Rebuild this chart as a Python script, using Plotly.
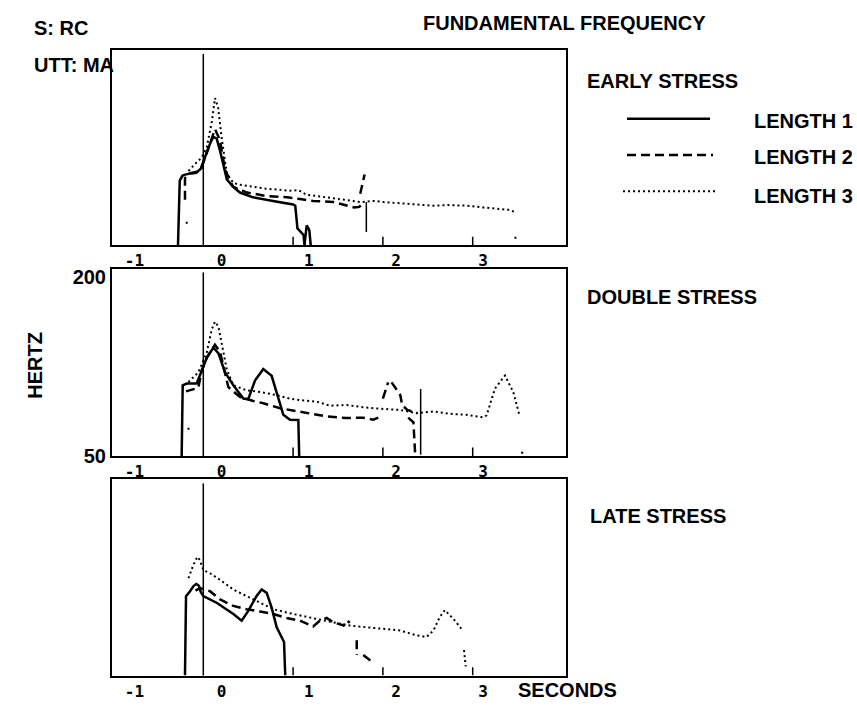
import plotly.graph_objects as go

# ---------------- data (seconds, Hz) ----------------
panel_titles = ["EARLY STRESS", "DOUBLE STRESS", "LATE STRESS"]
tick_values = [-1, 0, 1, 2, 3]
tick_labels = ["-1", "0", "1", "2", "3"]
y_tick_values = [50, 200]
y_tick_labels = ["50", "200"]
onset_time = -0.21
small_marks = [0.82, 1.85, 2.88]

# EARLY STRESS
early_len1_t = [-0.50, -0.48, -0.45, -0.42, -0.35, -0.29, -0.23, -0.17, -0.12, -0.095, -0.056, -0.02, 0.06,
                0.13, 0.21, 0.36, 0.59, 0.82, 0.845, 0.87, 0.94, 0.95, None, 0.95, 0.976, 1.006, 1.022]
early_len1_hz = [50, 104, 108, 109, 110, 110.5, 114.5, 128, 137, 140.5, 139, 129.5, 105,
                 99, 94, 90, 87, 84, 83, 64, 58.5, 50, None, 50, 66.5, 62.5, 50]
early_len2_t = [-0.42, -0.42, -0.37, -0.25, -0.17, -0.076, -0.02, 0.04, 0.13, 0.29, 0.52, 0.75, 0.90, 1.05,
                1.28, 1.43, 1.52, 1.58, 1.63, None, 1.59, 1.64]
early_len2_hz = [88, 106, 110, 112, 127, 147, 138, 113, 99, 94, 91, 90, 88.5, 87,
                 86, 83, 81.5, 82, 86, None, 93, 109]
early_len2_tail_t = [1.66, 1.66]
early_len2_tail_hz = [86, 61]
early_len3_t = [-0.40, -0.40, None, -0.38, -0.33, -0.29, -0.23, -0.17, -0.11, -0.076, -0.04, 0.0, 0.06, 0.135,
                0.21, 0.29, 0.40, 0.52, 0.65, 0.78, 0.88, 0.98, 1.10, 1.28, 1.40, 1.51, 1.60, 1.66, 1.75,
                1.86, 1.95, 2.05, 2.20, 2.43, 2.60, 2.81, 3.00, 3.19, 3.30, 3.37, None, 3.37, 3.37]
early_len3_hz = [68, 71, None, 112, 116, 119, 123, 132, 154, 173, 165, 140, 110, 102,
                 100.5, 99.5, 98, 97, 96.5, 95.5, 96, 92, 91, 89, 88, 87, 86, 86.5, 87,
                 86, 85.5, 85, 84, 83, 83.5, 83, 81.5, 80, 79.5, 77.5, None, 57, 55]

# DOUBLE STRESS
double_len1_t = [-0.458, -0.446, -0.40, -0.286, -0.229, -0.171, -0.095, -0.037, 0.039, 0.135, 0.249, 0.306,
                 0.383, 0.478, 0.574, 0.65, 0.708, 0.784, 0.88, 0.89]
double_len1_hz = [50, 109, 110.5, 110.5, 121, 132, 140.5, 136, 120, 109, 98, 97.5,
                  113, 122.7, 117, 97.5, 84.4, 80.3, 80, 50]
double_len2_t = [-0.408, -0.267, -0.229, -0.171, -0.076, -0.018, 0.077, 0.21, 0.364, 0.478, 0.67, 0.90, 1.205,
                 1.435, 1.62, 1.74, 1.82, None, 1.85, 1.91, None, 1.95, 2.05, 2.07, 2.13, 2.24, None,
                 2.14, 2.20, 2.22]
double_len2_hz = [104, 107, 121, 132, 143, 137, 107.6, 99.4, 96, 94, 89.9, 87.2, 83,
                  81.7, 82, 80.3, 82.8, None, 98, 111.5, None, 111.5, 100.8, 92.6, 88.5, 86, None,
                  82, 78, 51.6]
double_len2_tail_t = [2.283, 2.283]
double_len2_tail_hz = [51, 106]
double_len3_t = [-0.38, -0.38, None, -0.38, -0.267, -0.171, -0.114, -0.076, -0.037, 0.0, 0.058, 0.135, 0.287,
                 0.44, 0.632, 0.78, 0.90, 1.09, 1.243, 1.435, 1.66, 1.855, 2.045, 2.237, 2.43, 2.62, 2.81,
                 3.0, 3.04, 3.135, 3.25, 3.345, 3.42, None, 3.44, 3.46]
double_len3_hz = [72, 75, None, 111.8, 119.9, 136.3, 155.5, 162.3, 158.2, 144.5, 122.7, 109, 104.9,
                  103.5, 100.8, 98, 96.7, 95.4, 92, 92.6, 90.4, 89.3, 88.5, 85.8, 87.2, 85.2, 84.4,
                  82.2, 84, 106.3, 117.2, 103.5, 83, None, 52, 54]

# LATE STRESS
late_len1_t = [-0.42, -0.408, -0.362, -0.32, -0.29, -0.26, -0.24, -0.21, -0.057, 0.135, 0.23, 0.306, 0.40,
               0.46, 0.517, 0.574, 0.632, 0.69, 0.716, 0.73]
late_len1_hz = [50, 116.4, 120.5, 125, 126.5, 125, 120, 116.5, 110.9, 101.4, 95.9, 104.1, 116.4,
                121.9, 119.1, 106.8, 90.4, 80.9, 78.1, 50]
late_len2_t = [-0.30, -0.248, -0.133, -0.018, 0.135, 0.287, 0.44, 0.593, 0.746, 0.90, 1.05, 1.128, 1.205,
               1.28, 1.40, 1.44, 1.47, None, 1.55, 1.55, None, 1.625, 1.72]
late_len2_hz = [121, 123.2, 120.5, 113.7, 108.2, 105.5, 103.5, 101.4, 98.1, 95.9, 91, 95.9, 98.1,
                94.5, 91.8, 96, 94, None, 79.5, 67.2, None, 67.2, 61.7]
late_len3_t = [-0.38, -0.325, -0.279, -0.248, -0.21, -0.133, -0.018, 0.135, 0.287, 0.44, 0.593, 0.746, 0.90,
               1.09, 1.28, 1.47, 1.66, 1.855, 2.045, 2.237, 2.35, 2.43, 2.50, 2.56, 2.66, 2.75, None,
               2.78, 2.80]
late_len3_hz = [131.4, 142.3, 149.2, 146.4, 138.2, 135.5, 130, 121.9, 116.4, 110.9, 105.5, 102.7, 100,
                97.3, 94.5, 91.8, 90.4, 89.1, 87.7, 83.6, 82.2, 87.7, 98.6, 104.7, 97.3, 89.1, None,
                71.3, 57.6]

panels = [
    (early_len1_t, early_len1_hz, early_len2_t, early_len2_hz, early_len3_t, early_len3_hz,
     early_len2_tail_t, early_len2_tail_hz),
    (double_len1_t, double_len1_hz, double_len2_t, double_len2_hz, double_len3_t, double_len3_hz,
     double_len2_tail_t, double_len2_tail_hz),
    (late_len1_t, late_len1_hz, late_len2_t, late_len2_hz, late_len3_t, late_len3_hz, [], []),
]

# ---------------- layout geometry ----------------
W, H = 857, 714
x_dom = [112 / W, 566 / W]
panel_px = [(48, 247), (271, 462), (486, 686)]  # top, bottom in pixels
px_per_hz = 1.22
x_range = [-1.257, 3.95]

styles = [
    dict(color="black", width=2.5),
    dict(color="black", width=2.5, dash="9px,5px"),
    dict(color="black", width=2, dash="2px,3px"),
]

fig = go.Figure()
layout = dict(width=W, height=H, margin=dict(l=0, r=0, t=0, b=0),
              paper_bgcolor="white", plot_bgcolor="white", showlegend=False)

for i, (top, bot) in enumerate(panel_px):
    n = i + 1
    xs = "" if n == 1 else str(n)
    dom = [1 - bot / H, 1 - top / H]
    y_top = 50 + (bot - top) / px_per_hz
    l1t, l1h, l2t, l2h, l3t, l3h, tt, th = panels[i]
    for (t, h, st) in [(l3t, l3h, styles[2]), (l2t, l2h, styles[1]), (l1t, l1h, styles[0])]:
        fig.add_trace(go.Scatter(x=t, y=h, mode="lines", line=st, xaxis="x" + xs, yaxis="y" + xs,
                                 connectgaps=False, hoverinfo="skip"))
    if tt:
        fig.add_trace(go.Scatter(x=tt, y=th, mode="lines", line=dict(color="black", width=1.5),
                                 xaxis="x" + xs, yaxis="y" + xs, hoverinfo="skip"))
    mx, my = [], []
    for m in small_marks:
        mx += [m, m, None]
        my += [50, 57, None]
    fig.add_trace(go.Scatter(x=mx, y=my, mode="lines", line=dict(color="black", width=1.5),
                             xaxis="x" + xs, yaxis="y" + xs, hoverinfo="skip"))
    fig.add_shape(type="line", xref="x" + xs, yref="y" + xs + " domain", x0=onset_time, x1=onset_time,
                  y0=0, y1=0.98, line=dict(color="black", width=1.5))

    layout["xaxis" + xs] = dict(domain=x_dom, range=x_range, anchor="y" + xs, showline=True, mirror=True,
                                linecolor="black", linewidth=2, showgrid=False, zeroline=False,
                                tickmode="array", tickvals=tick_values, ticktext=tick_labels, ticks="",
                                ticklabelstandoff=0,
                                tickfont=dict(family="DejaVu Sans Mono", size=16, color="black",
                                              weight="bold"))
    layout["yaxis" + xs] = dict(domain=dom, range=[50, y_top], anchor="x" + xs, showline=True, mirror=True,
                                linecolor="black", linewidth=2, showgrid=False, zeroline=False,
                                ticks="", showticklabels=(n == 2), tickmode="array",
                                tickvals=y_tick_values, ticktext=y_tick_labels,
                                tickfont=dict(family="Liberation Sans", size=20, color="black",
                                              weight="bold"))

fig.update_layout(**layout)

bold = dict(family="Liberation Sans", size=20, color="black", weight="bold")


def note(text, x, y, **kw):
    fig.add_annotation(text=text, x=x / W, y=1 - y / H, xref="paper", yref="paper",
                       showarrow=False, xanchor=kw.pop("xanchor", "left"), yanchor="middle",
                       font=bold, **kw)


note("FUNDAMENTAL FREQUENCY", 421, 20)
note("S: RC", 32, 25)
note("UTT: MA", 32, 63)
note(panel_titles[0], 585, 80)
note(panel_titles[1], 585, 300)
note(panel_titles[2], 588, 523)
note("SECONDS", 516, 701)
note("HERTZ", 35, 370, textangle=-90, xanchor="center")

legend_names = ["LENGTH 1", "LENGTH 2", "LENGTH 3"]
legend_keys = [(627, 710, 118, 120), (627, 713, 155, 157), (623, 715, 192, 197)]
for name, st, (x0, x1, yl, yt) in zip(legend_names, styles, legend_keys):
    fig.add_shape(type="line", xref="paper", yref="paper", x0=x0 / W, x1=x1 / W,
                  y0=1 - yl / H, y1=1 - yl / H, line=st)
    note(name, 752, yt)

fig.write_html("out.html")
